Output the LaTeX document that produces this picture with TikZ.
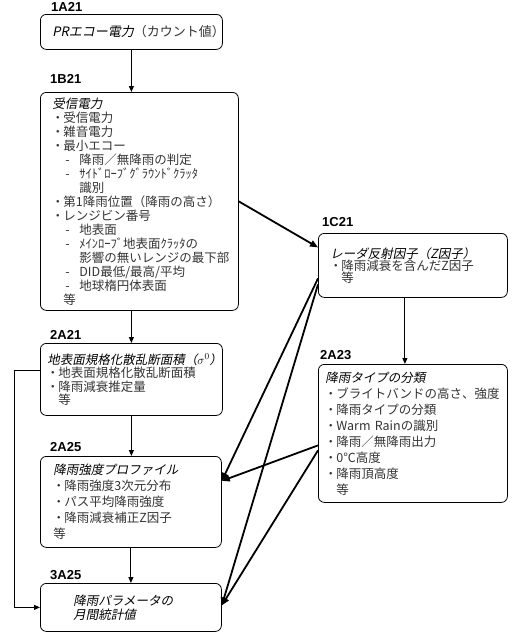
\documentclass[tikz,border=0pt]{standalone}
\usepackage{fontspec}
\setmainfont{Noto Sans CJK JP}
\newfontfamily\jpit[FakeSlant=0.2]{Noto Sans CJK JP}
\newfontfamily\lblfont{Liberation Sans}
\usetikzlibrary{arrows.meta}

\newcommand{\bitem}[1]{\makebox[11pt][c]{・}#1}
\newcommand{\ditem}[1]{\hspace*{11pt}\makebox[16pt][l]{\hspace{2pt}-}#1}
\newcommand{\dcont}[1]{\hspace*{27pt}#1}
\newcommand{\etcline}{\hspace*{11pt}等}

\tikzset{
  prodbox/.style={draw, rounded corners=6pt, line width=0.8pt, anchor=north west,
    align=left, inner ysep=0pt, text=black!80},
  prodlbl/.style={font=\lblfont\bfseries\fontsize{13}{13}\selectfont, anchor=west, inner sep=0pt},
  flow/.style={line width=1pt, -{Triangle[length=6pt,width=5pt]}},
  cross/.style={line width=1.8pt, -{Triangle[length=8pt,width=6.5pt]}},
}

\begin{document}
\begin{tikzpicture}[x=1pt,y=-1pt]
\useasboundingbox (0,0) rectangle (517,632);
% product labels
\node[prodlbl] (l1A) at (51,7) {1A21};
\node[prodlbl] (l1B) at (50,79) {1B21};
\node[prodlbl] (l1C) at (322,222) {1C21};
\node[prodlbl] (l2A21) at (50,335) {2A21};
\node[prodlbl] (l2A23) at (320,355.5) {2A23};
\node[prodlbl] (l2A25) at (50,447) {2A25};
\node[prodlbl] (l3A) at (50,575) {3A25};
% level 1
\node[prodbox, inner xsep=12pt, text width=158pt, minimum height=35pt,
  font=\fontsize{13}{14}\selectfont] (a1A) at (40,14)
  {{\color{black}\jpit PRエコー電力}（カウント値）};
\node[prodbox, inner xsep=12pt, text width=174pt, minimum height=218pt,
  font=\fontsize{12.5}{14}\selectfont] (b1B) at (40,92)
  {{\color{black}\jpit 受信電力}\\
   \bitem{受信電力}\\
   \bitem{雑音電力}\\
   \bitem{最小エコー}\\
   \ditem{降雨／無降雨の判定}\\
   \ditem{ｻｲﾄﾞﾛｰﾌﾞｸﾞﾗｳﾝﾄﾞｸﾗｯﾀ}\\
   \dcont{識別}\\
   \bitem{第1降雨位置（降雨の高さ）}\\
   \bitem{レンジビン番号}\\
   \ditem{地表面}\\
   \ditem{ﾒｲﾝﾛｰﾌﾞ地表面ｸﾗｯﾀの}\\
   \dcont{影響の無いレンジの最下部}\\
   \ditem{DID最低/最高/平均}\\
   \ditem{地球楕円体表面}\\
   \etcline};
\node[prodbox, inner xsep=12pt, text width=165pt, minimum height=64pt,
  font=\fontsize{12.5}{12}\selectfont] (c1C) at (318,233)
  {{\color{black}\jpit レーダ反射因子（Z因子）}\\
   \bitem{降雨減衰を含んだZ因子}\\
   \etcline};
% level 2
\node[prodbox, inner xsep=7pt, text width=168pt, minimum height=72pt,
  font=\fontsize{12.5}{13.5}\selectfont] (a21) at (40,343)
  {{\color{black}\jpit 地表面規格化散乱断面積（$\sigma^0$）}\\
   \bitem{地表面規格化散乱断面積}\\
   \bitem{降雨減衰推定量}\\
   \etcline};
\node[prodbox, inner xsep=7pt, text width=175pt, minimum height=138pt,
  font=\fontsize{12.5}{16}\selectfont] (a23) at (318,364)
  {{\color{black}\jpit 降雨タイプの分類}\\
   \bitem{ブライトバンドの高さ、強度}\\
   \bitem{降雨タイプの分類}\\
   \bitem{Warm Rainの識別}\\
   \bitem{降雨／無降雨出力}\\
   \bitem{0℃高度}\\
   \bitem{降雨頂高度}\\
   \etcline};
\node[prodbox, inner xsep=13pt, text width=155pt, minimum height=91pt,
  font=\fontsize{12.5}{16}\selectfont] (a25) at (40,456)
  {{\color{black}\jpit 降雨強度プロファイル}\\
   \bitem{降雨強度3次元分布}\\
   \bitem{パス平均降雨強度}\\
   \bitem{降雨減衰補正Z因子}\\
   等};
% level 3
\node[prodbox, inner xsep=33pt, text width=115pt, minimum height=48pt,
  font=\fontsize{12.5}{14}\selectfont, text=black] (p3) at (40,583)
  {{\jpit 降雨パラメータの}\\
   {\jpit 月間統計値}};
% vertical flow
\draw[flow] (a1A.south) -- (a1A.south |- b1B.north);
\draw[flow] (b1B.south -| a21.north) -- (a21.north);
\draw[flow] (a21.south) -- (a21.south |- a25.north);
\draw[flow] (a25.south) -- (a25.south |- p3.north);
\draw[flow] ([xshift=-8pt]c1C.south) -- ([xshift=-8pt]c1C.south |- a23.north);
\draw[flow] ([yshift=9pt]a21.west) -- ++(-26,0) |- (p3.west);
% cross connections
\draw[cross] (b1B.east) -- ([yshift=18pt]c1C.west);
\draw[cross] ([yshift=-13pt]c1C.west) -- ([yshift=21pt]a25.east);
\draw[cross] ([yshift=-19pt]c1C.west) -- ([yshift=2pt]p3.east);
\draw[cross] ([yshift=-12pt]a23.west) -- ([yshift=21pt]a25.east);
\draw[cross] ([yshift=-17pt]a23.west) -- ([yshift=2pt]p3.east);
\end{tikzpicture}
\end{document}
